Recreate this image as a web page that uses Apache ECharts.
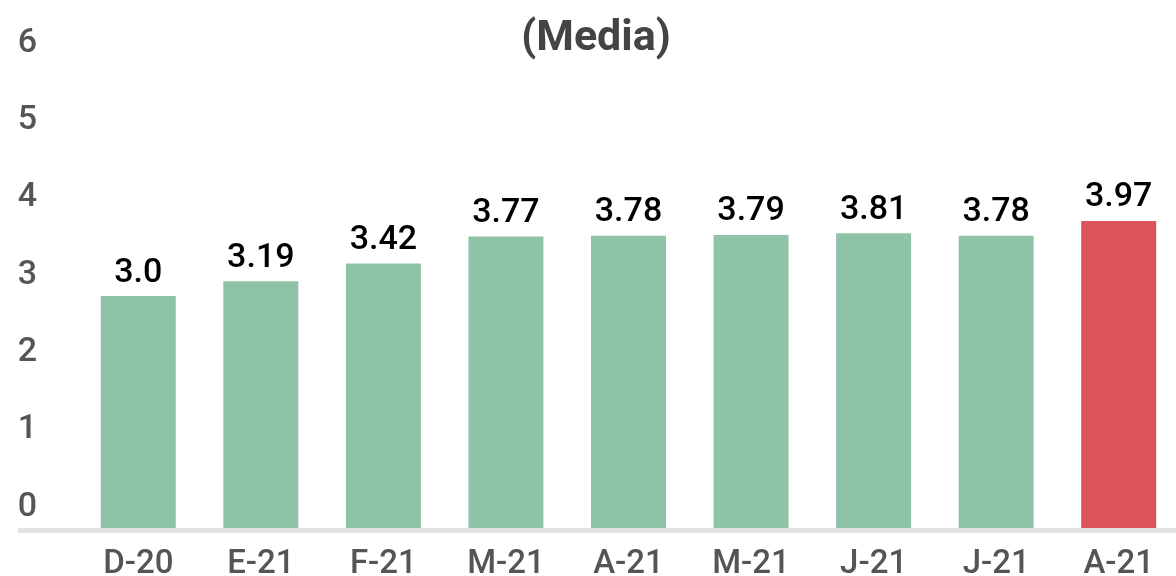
<!DOCTYPE html>
<html>
<head>
<meta charset="utf-8">
<script src="https://cdn.jsdelivr.net/npm/echarts@6/dist/echarts.min.js"></script>
<style>
  html, body { margin: 0; padding: 0; background: #fff; }
  #chart { width: 1176px; height: 576px; }
</style>
</head>
<body>
<div id="chart"></div>
<script>
// Monthly averages
const months = ['D-20', 'E-21', 'F-21', 'M-21', 'A-21', 'M-21', 'J-21', 'J-21', 'A-21'];
const averages = [3.0, 3.19, 3.42, 3.77, 3.78, 3.79, 3.81, 3.78, 3.97];
const labelTexts = ['3.0', '3.19', '3.42', '3.77', '3.78', '3.79', '3.81', '3.78', '3.97'];
const yTicks = [0, 1, 2, 3, 4, 5, 6];

const GREEN = '#8fc3a8';
const RED = '#db5457';
const lastIdx = averages.length - 1;

const chart = echarts.init(document.getElementById('chart'));
chart.setOption({
  animation: false,
  textStyle: { fontFamily: 'Roboto' },
  title: {
    text: '(Media)',
    left: 591,
    textAlign: 'center',
    top: 13,
    textStyle: { fontFamily: 'Roboto', fontSize: 43, fontWeight: 'bold', color: '#444' }
  },
  grid: { left: 77, right: -4, top: 64, bottom: 48, containLabel: false, outerBoundsMode: 'none' },
  xAxis: {
    type: 'category',
    data: months,
    axisTick: { show: false },
    axisLine: { show: false },
    axisLabel: { color: '#555', fontSize: 33, fontWeight: 500, margin: 20, fontFamily: 'Roboto' }
  },
  yAxis: {
    type: 'value',
    min: yTicks[0],
    max: yTicks[yTicks.length - 1],
    interval: 1,
    splitLine: { show: false },
    axisLine: { show: false },
    axisTick: { show: false },
    axisLabel: {
      color: '#555', fontSize: 34, fontWeight: 500, fontFamily: 'Roboto',
      margin: 40, verticalAlign: 'bottom', padding: [0, 0, 4, 0]
    }
  },
  // baseline strip under the bars, running across the whole plot width
  graphic: [{
    type: 'rect',
    shape: { x: 18, y: 528, width: 1160, height: 5 },
    style: { fill: '#e3e3e3' },
    z: 0
  }],
  series: [{
    type: 'bar',
    barWidth: 75,
    data: averages.map((v, i) => ({
      value: v,
      itemStyle: { color: i === lastIdx ? RED : GREEN }
    })),
    label: {
      show: true,
      position: 'top',
      distance: 6,
      color: '#000',
      fontSize: 34,
      fontWeight: 500,
      fontFamily: 'Roboto',
      formatter: p => labelTexts[p.dataIndex]
    }
  }]
});
</script>
</body>
</html>
